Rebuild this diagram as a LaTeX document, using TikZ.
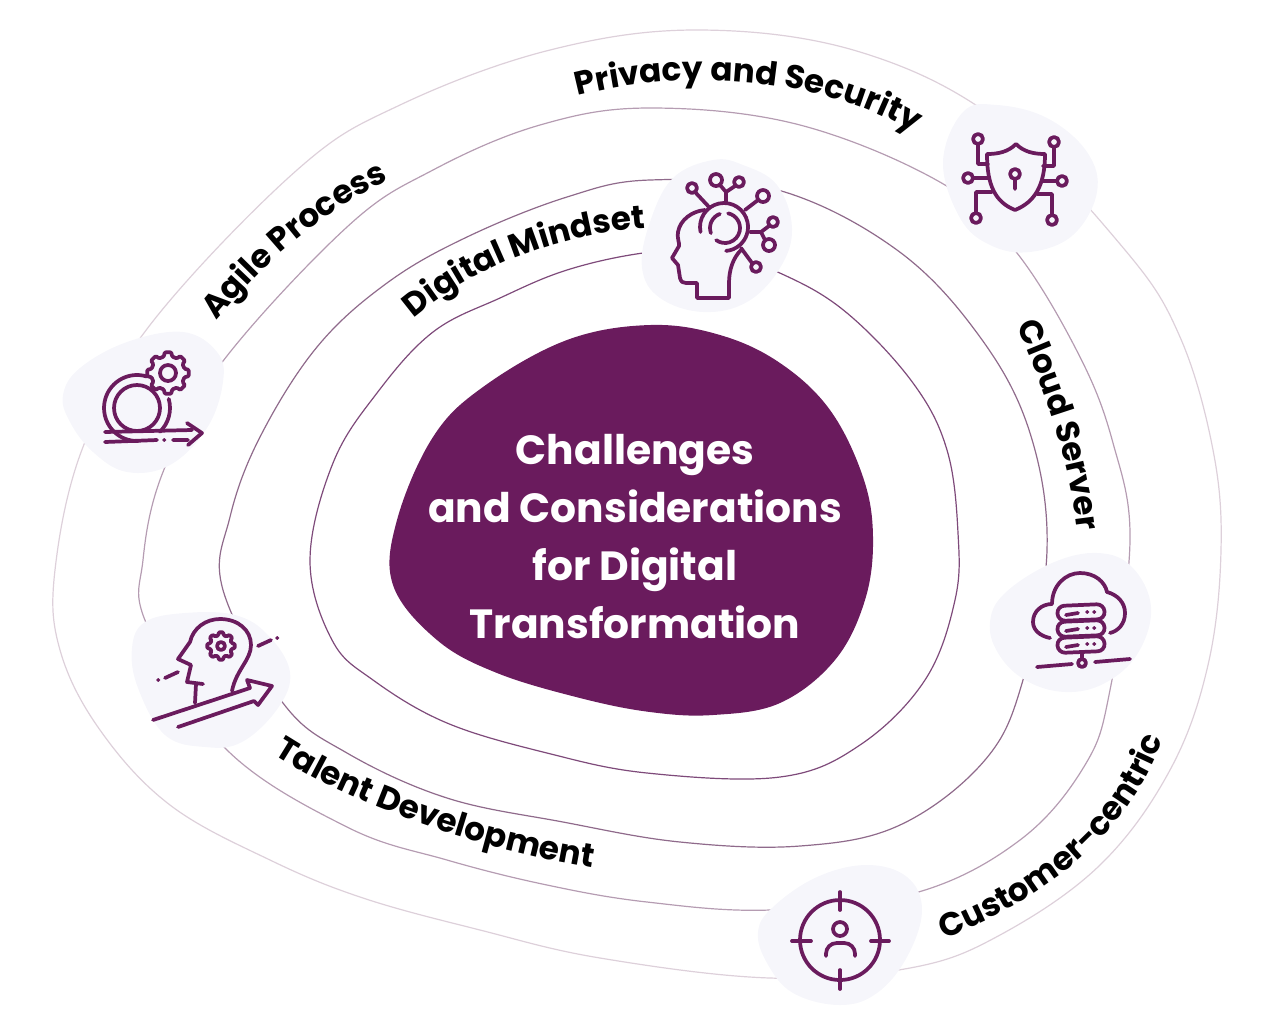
\documentclass[tikz,border=0pt]{standalone}
\usepackage{fontspec}
\setmainfont{Poppins}
\usetikzlibrary{decorations.text}
\definecolor{plum}{HTML}{6A1B5D}
\definecolor{blobtint}{HTML}{F6F6FB}
\definecolor{ringone}{HTML}{7E4A7A}
\definecolor{ringtwo}{HTML}{8F6A8B}
\definecolor{ringthree}{HTML}{B59CB2}
\definecolor{ringfour}{HTML}{DDD0DA}
\newcommand{\labelfont}{\fontsize{24.5}{30}\selectfont\bfseries}

\begin{document}
\begin{tikzpicture}[
  x=0.75pt,
  y=-0.75pt,
  ring/.style={line width=0.9pt},
  blob/.style={fill=blobtint, draw=none},
  icon/.style={draw=plum, line width=2.8pt, line cap=round, line join=round},
  lab/.style={decorate, decoration={text along path, text align=center, text={|\labelfont|#1}}},
  title/.style={text=white, font=\fontsize{30.6}{43.5}\selectfont\bfseries, align=center},
  pics/gearwheel/.style 2 args={code={
    \draw[icon, rounded corners=0.8pt] (-14:#1) \foreach \a in {0,45,...,315}{ -- (\a-14:#1) -- (\a-9:#2) -- (\a+9:#2) -- (\a+14:#1) } -- cycle;
  }}
]
  \useasboundingbox (0,0) rectangle (1280,1033);

  % rings
  \draw[ring, ringfour] plot[smooth cycle, tension=0.62] coordinates {(700,30) (860,52) (1000,122) (1125,250) (1180,337) (1213,450) (1221,550) (1208,665) (1170,770) (1100,865) (1000,935) (910,968) (770,978) (600,958) (480,930) (363,898) (270,860) (170,805) (100,730) (60,650) (55,570) (83,447) (150,325) (297,170) (400,105) (550,50)};
  \draw[ring, ringthree] plot[smooth cycle, tension=0.62] coordinates {(650,108) (800,125) (945,185) (1017,253) (1080,357) (1113,443) (1130,540) (1110,690) (1085,765) (1020,840) (915,893) (770,910) (647,902) (547,885) (447,860) (347,827) (225,748) (147,625) (143,560) (163,472) (220,365) (347,227) (433,170) (540,125)};
  \draw[ring, ringtwo] plot[smooth cycle, tension=0.62] coordinates {(650,180) (778,190) (897,250) (980,337) (1030,433) (1047,550) (1023,680) (985,760) (900,825) (800,846) (680,842) (563,822) (447,798) (347,753) (283,703) (223,590) (230,517) (260,437) (317,347) (387,283) (467,237) (567,197)};
  \draw[ring, ringone] plot[smooth cycle, tension=0.62] coordinates {(643,253) (567,270) (500,298) (433,332) (377,393) (333,463) (310,560) (332,640) (373,680) (447,723) (547,753) (647,773) (780,777) (860,745) (925,680) (955,600) (958,533) (947,450) (913,383) (847,313) (782,274) (710,250)};

  % centre
  \fill[plum] plot[smooth cycle, tension=0.62] coordinates {(650,325) (567,340) (483,387) (433,437) (397,520) (393,585) (437,640) (497,673) (580,698) (650,712) (713,715) (780,703) (835,660) (865,600) (873,537) (863,477) (830,410) (780,363) (720,335)};
  \node[title] (centre) at (635,537) {Challenges\\and Considerations\\for Digital\\Transformation};

  % blobs
  \fill[blob] plot[smooth cycle, tension=0.65] coordinates {(997,105) (963,112) (943,162) (960,218) (990,245) (1030,252) (1073,235) (1097,192) (1087,152) (1047,118)};
  \fill[blob] plot[smooth cycle, tension=0.65] coordinates {(713,160) (673,178) (650,222) (642,268) (660,298) (703,312) (747,302) (780,268) (792,228) (777,185) (743,165)};
  \fill[blob] plot[smooth cycle, tension=0.65] coordinates {(63,395) (80,368) (127,342) (183,332) (217,352) (223,382) (207,428) (170,465) (127,472) (93,452) (70,422)};
  \fill[blob] plot[smooth cycle, tension=0.65] coordinates {(132,648) (145,622) (185,613) (235,615) (268,635) (290,672) (278,708) (242,742) (205,747) (165,735) (138,688)};
  \fill[blob] plot[smooth cycle, tension=0.65] coordinates {(990,622) (1005,593) (1052,563) (1098,553) (1132,567) (1151,607) (1138,653) (1105,683) (1065,692) (1025,680) (998,653)};
  \fill[blob] plot[smooth cycle, tension=0.65] coordinates {(758,932) (773,907) (817,877) (867,865) (907,877) (922,910) (907,957) (877,993) (840,1005) (793,993) (767,963)};

  % labels
  \path[lab={Privacy and Security}] (573,97) .. controls (680,68) and (820,75) .. (918,135);
  \path[lab={Agile Process}] (213,325) .. controls (262,265) and (318,213) .. (393,178);
  \path[lab={Digital Mindset}] (412,320) .. controls (470,270) and (550,235) .. (648,228);
  \path[lab={Cloud Server}] (1015,322) .. controls (1040,375) and (1070,460) .. (1078,535);
  \path[lab={Customer-centric}] (947,938) .. controls (1040,900) and (1125,840) .. (1162,742);
  \path[lab={Talent Development}] (270,752) .. controls (350,805) and (480,850) .. (596,868);

  % shield icon
  \draw[icon] (1016,144) .. controls (1008,152) and (998,154) .. (987,154) .. controls (987,185) and (995,202) .. (1015,210) .. controls (1035,202) and (1045,185) .. (1045,154) .. controls (1034,154) and (1024,152) .. (1016,144) -- cycle;
  \draw[icon] (1015,174) circle (5) (1015,179) -- (1015,189);
  \draw[icon] (978,139) circle (5) (978,144) -- (978,164) -- (988,164);
  \draw[icon] (1054,142) circle (5) (1054,147) -- (1054,166) -- (1043,166);
  \draw[icon] (968,178) circle (5) (973,178) -- (988,178);
  \draw[icon] (1062,181) circle (5) (1057,181) -- (1042,181);
  \draw[icon] (976,218) circle (5) (976,213) -- (976,192) -- (992,192);
  \draw[icon] (1052,220) circle (5) (1052,215) -- (1052,194) -- (1037,194);

  % brain icon
  \draw[icon] (705,210) .. controls (692,211) and (680,220) .. (678,232) .. controls (677,240) and (680,244) .. (679,246) -- (672,258) -- (678,265) -- (680,278) .. controls (681,282) and (683,283) .. (686,283) -- (697,283) -- (697,298) -- (729,298) -- (729,283) .. controls (729,270) and (733,258) .. (741,250);
  \draw[icon] (724,227) ++(168:24) arc[start angle=168, end angle=445, radius=24];
  \draw[icon] (725,228) ++(160:15) arc[start angle=160, end angle=250, radius=15];
  \draw[icon] (725,228) ++(282:15) arc[start angle=282, end angle=486, radius=15];
  \draw[icon] (692,188) circle (5) (695,192) -- (709,207);
  \draw[icon] (716,180) circle (6) (726,203) -- (726,192) -- (720,185) (726,192) -- (735,186) (739,182) circle (5);
  \draw[icon] (763,196) circle (6) (758,200) -- (745,210);
  \draw[icon] (773,222) circle (5) (769,245) circle (6) (750,232) -- (761,232) -- (769,226) (761,232) -- (765,240);
  \draw[icon] (756,267) circle (5) (741,248) -- (752,263);

  % agile icon
  \pic at (168,373) {gearwheel={17}{21}};
  \draw[icon] (168,373) circle (8);
  \draw[icon] (137,408) circle (23);
  \draw[icon] (137,408) ++(287:33) arc[start angle=287, end angle=88, radius=33];
  \draw[icon] (137,408) ++(344:33) arc[start angle=344, end angle=406, radius=33];
  \draw[icon] (105,432) -- (192,430) (105,442) -- (157,440) (164,440) -- (164.5,440) (173,440) -- (188,440);
  \draw[icon] (187,423) -- (202,433) -- (188,445);

  % talent icon
  \draw[icon] (195,703) -- (196,684) (203,684) -- (187,682) -- (191,665) -- (178,659) -- (190,642) .. controls (193,628) and (206,619) .. (220,619) .. controls (238,619) and (251,630) .. (251,645) .. controls (251,660) and (236,670) .. (232,691);
  \pic at (221,646) {gearwheel={11}{14}};
  \draw[icon] (221,646) circle (4);
  \draw[icon] (178,672) -- (165,678) (158,680) -- (158.5,680) (258,646) -- (271,640) (277,638) -- (277.5,638);
  \draw[icon] (153,720) -- (250,688) -- (247,680) -- (272,686) -- (258,705) -- (254,701) -- (178,727);

  % cloud icon
  \draw[icon] (1050,638) .. controls (1040,636) and (1033,630) .. (1033,622) .. controls (1033,611) and (1042,604) .. (1052,604) .. controls (1052,585) and (1066,573) .. (1080,573) .. controls (1095,573) and (1105,582) .. (1107,592) .. controls (1118,595) and (1125,603) .. (1125,613) .. controls (1125,624) and (1118,631) .. (1110,633);
  \foreach \dy in {0,16,32}{
    \draw[icon, rounded corners=5.5pt] (1057,{606+\dy}) -- (1104,{604+\dy}) -- (1105,{619+\dy}) -- (1058,{621+\dy}) -- cycle;
    \draw[icon] (1066,{615+\dy}) -- (1078,{613+\dy}) (1087,{612+\dy}) -- (1087.5,{612+\dy}) (1094,{612+\dy}) -- (1094.5,{612+\dy});
  }
  \draw[icon] (1082,654) -- (1082,659) (1082,663) circle (4);
  \draw[icon] (1037,667) -- (1072,664) (1095,662) -- (1130,659);

  % customer icon
  \draw[icon] (840,940) circle (40);
  \draw[icon] (840,892) -- (840,910) (840,970) -- (840,989) (792,941) -- (811,941) (871,941) -- (889,941);
  \draw[icon] (840,929) circle (7);
  \draw[icon, rounded corners=8pt] (826,956) -- (826,943) -- (855,943) -- (855,956);
\end{tikzpicture}
\end{document}
